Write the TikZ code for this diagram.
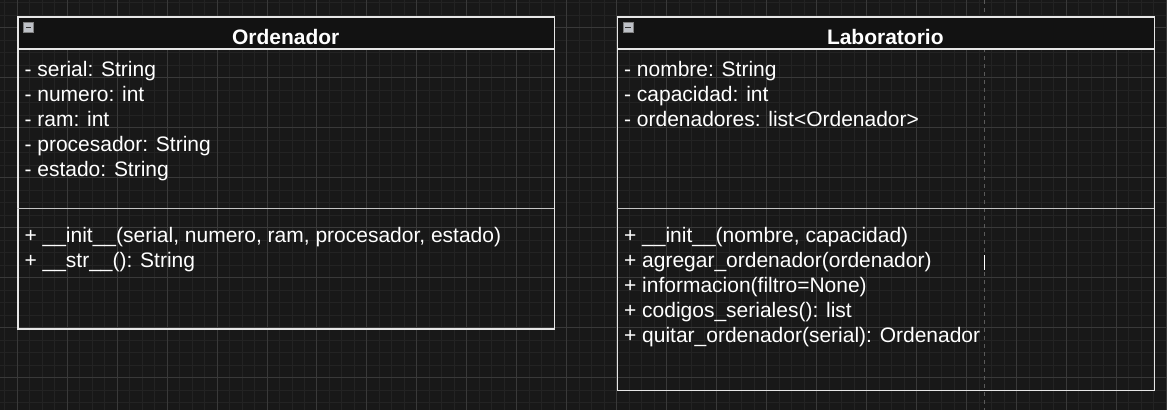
\documentclass[tikz,border=0pt]{standalone}
\usepackage{fontspec}
\setmainfont{Liberation Sans}
\usetikzlibrary{positioning}
\definecolor{Canvas}{HTML}{181818}
\definecolor{GridMinor}{HTML}{232323}
\definecolor{GridMajor}{HTML}{393939}
\definecolor{HeadFill}{HTML}{121212}
\definecolor{Edge}{HTML}{E6E6E6}
\definecolor{Rule}{HTML}{C4C4C4}
\definecolor{IconGrey}{HTML}{BEC1C7}
\definecolor{PageLine}{HTML}{5A5A5A}

\begin{document}
\begin{tikzpicture}[x=1pt,y=-1pt,
  every node/.style={font=\fontsize{21}{25}\selectfont,text=white,inner sep=0pt},
  classbox/.style={draw=Edge,line width=1.3pt,anchor=north west,minimum width=537pt},
  headbox/.style={draw=Edge,line width=1.3pt,fill=HeadFill,anchor=north west,minimum width=537pt,minimum height=32pt},
  title/.style={font=\fontsize{21}{25}\selectfont\bfseries,anchor=base},
  member/.style={anchor=base west},
  sep/.style={Rule,line width=1.6pt},
  icon/.style={draw=gray,fill=IconGrey,minimum size=10pt,anchor=north west,line width=0.6pt}
]
% canvas and grid
\fill[Canvas] (0,0) rectangle (1167,410);
\foreach \x in {4.2,16.7,...,1167} \draw[GridMinor,line width=0.8pt] (\x,0) -- (\x,410);
\foreach \y in {2.3,14.8,...,410} \draw[GridMinor,line width=0.8pt] (0,\y) -- (1167,\y);
\foreach \x in {16.7,66.7,...,1167} \draw[GridMajor,line width=0.8pt] (\x,0) -- (\x,410);
\foreach \y in {27.3,77.3,...,410} \draw[GridMajor,line width=0.8pt] (0,\y) -- (1167,\y);
\draw[PageLine,line width=0.9pt,dash pattern=on 4pt off 4pt] (984.5,0) -- (984.5,410);

% Ordenador
\node[classbox,minimum height=312pt] (ord) at (17,16) {};
\node[headbox] (ordhead) at (ord.north west) {};
\draw[sep] (ord.north west) ++(0,192) -- ++(537,0);
\node[icon] (ordicon) at (23,22) {};
\draw[black!80,line width=1.5pt] ([xshift=2.5pt]ordicon.west) -- ([xshift=-2.5pt]ordicon.east);
\node[title] (ordtitle) at (285.5,44) {Ordenador};
\foreach \txt [count=\i] in {{- serial: String},{- numero: int},{- ram: int},{- procesador: String},{- estado: String}}
  \node[member] (ord-a\i) at (24,{51+25*\i}) {\txt};
\foreach \txt [count=\i] in {{+ \_\_init\_\_(serial, numero, ram, procesador, estado)},{+ \_\_str\_\_(): String}}
  \node[member] (ord-m\i) at (24,{217+25*\i}) {\txt};

% Laboratorio
\node[classbox,minimum height=374pt] (lab) at (617,16) {};
\node[headbox] (labhead) at (lab.north west) {};
\draw[sep] (lab.north west) ++(0,192) -- ++(537,0);
\node[icon] (labicon) at (623,22) {};
\draw[black!80,line width=1.5pt] ([xshift=2.5pt]labicon.west) -- ([xshift=-2.5pt]labicon.east);
\node[title] (labtitle) at (885.5,44) {Laboratorio};
\foreach \txt [count=\i] in {{- nombre: String},{- capacidad: int},{- ordenadores: list<Ordenador>}}
  \node[member] (lab-a\i) at (624,{51+25*\i}) {\txt};
\foreach \txt [count=\i] in {{+ \_\_init\_\_(nombre, capacidad)},{+ agregar\_ordenador(ordenador)},{+ informacion(filtro=None)},{+ codigos\_seriales(): list},{+ quitar\_ordenador(serial): Ordenador}}
  \node[member] (lab-m\i) at (624,{217+25*\i}) {\txt};

% text cursor
\coordinate (caret) at (985,255);
\draw[white,line width=1.2pt] (caret) -- ++(0,15);
\end{tikzpicture}
\end{document}
